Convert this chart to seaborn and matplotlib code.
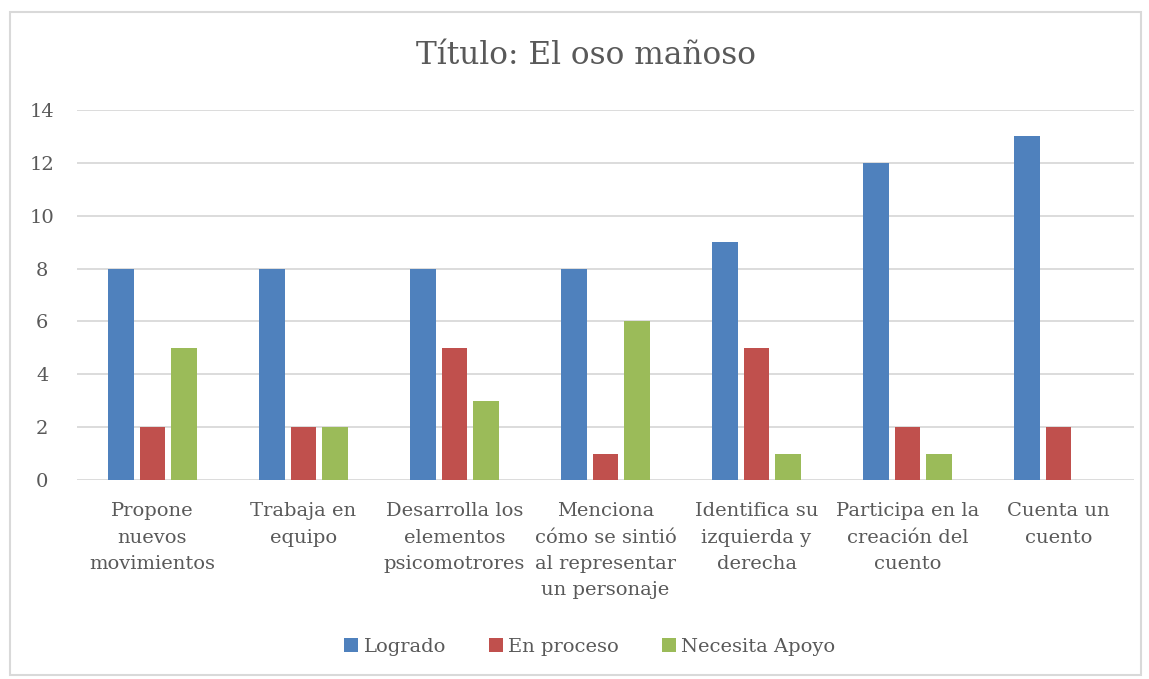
import pandas as pd
from matplotlib import pyplot as plt
from matplotlib.patches import Rectangle
import seaborn as sns

categorias = [
    "Propone\nnuevos\nmovimientos",
    "Trabaja en\nequipo",
    "Desarrolla los\nelementos\npsicomotrores",
    "Menciona\ncómo se sintió\nal representar\nun personaje",
    "Identifica su\nizquierda y\nderecha",
    "Participa en la\ncreación del\ncuento",
    "Cuenta un\ncuento",
]
logrado = [8, 8, 8, 8, 9, 12, 13]
en_proceso = [2, 2, 5, 1, 5, 2, 2]
necesita_apoyo = [5, 2, 3, 6, 1, 1, 0]

series = ["Logrado", "En proceso", "Necesita Apoyo"]
colores = ["#4F81BD", "#C0504D", "#9BBB59"]
gris = "#595959"

df = pd.DataFrame({
    "categoria": categorias * 3,
    "valor": logrado + en_proceso + necesita_apoyo,
    "serie": [s for s in series for _ in categorias],
})

sns.set_style("white")
plt.rcParams["font.family"] = ["DejaVu Serif"]

fig = plt.figure(figsize=(11.49, 6.79), dpi=100)
fig.patches.append(Rectangle((10 / 1149, 4 / 679), 1131 / 1149, 663 / 679,
                             transform=fig.transFigure, fill=False,
                             edgecolor="#D9D9D9", linewidth=1.5))
ax = fig.add_axes([77 / 1149, 1 - 480 / 679, 1057 / 1149, 370 / 679])

sns.barplot(data=df, x="categoria", y="valor", hue="serie", palette=colores,
            width=0.62, gap=0.17, linewidth=0, saturation=1, ax=ax)

ax.set_ylim(0, 14)
ax.set_yticks(range(0, 15, 2))
ax.set_xlim(-0.5, len(categorias) - 0.5)
ax.grid(axis="y", color="#D9D9D9", linewidth=1.3)
ax.set_axisbelow(True)
for s in ax.spines.values():
    s.set_visible(False)
ax.set_xlabel("")
ax.set_ylabel("")
ax.tick_params(axis="both", length=0, labelsize=14, colors=gris)
ax.tick_params(axis="x", pad=16)
ax.tick_params(axis="y", pad=25)
for t in ax.get_xticklabels():
    t.set_linespacing(1.6)
for t in ax.get_yticklabels():
    t.set_horizontalalignment("center")

fig.text(586 / 1149, 1 - 55 / 679, "Título: El oso mañoso", ha="center",
         va="center", fontsize=22.5, color=gris)

ax.legend(loc="center", bbox_to_anchor=(590 / 1149, 1 - 647 / 679),
          bbox_transform=fig.transFigure, ncol=3, frameon=False,
          fontsize=14, labelcolor=gris, handlelength=0.7, handleheight=0.7,
          handletextpad=0.3, columnspacing=2.2)

fig.savefig("out.png", dpi=100)
